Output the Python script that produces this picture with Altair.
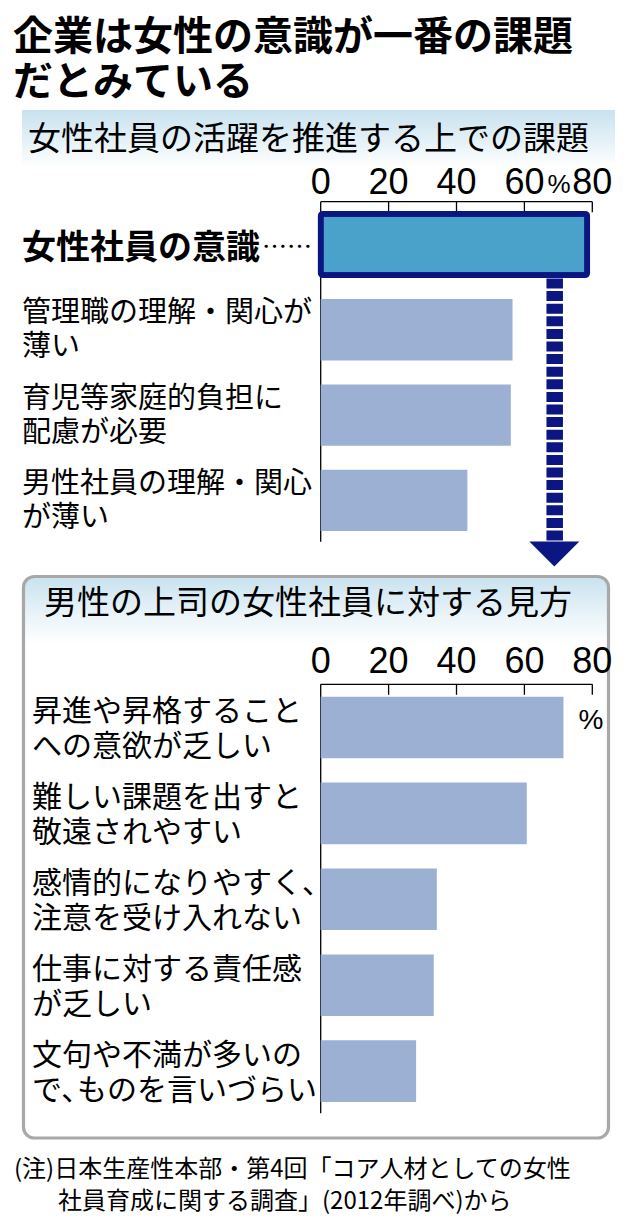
import altair as alt
import pandas as pd

# ---------------- data ----------------
title_lines = ["企業は女性の意識が一番の課題", "だとみている"]
top_title = "女性社員の活躍を推進する上での課題"
bottom_title = "男性の上司の女性社員に対する見方"
note_lines = ["(注)日本生産性本部・第4回「コア人材としての女性",
              "社員育成に関する調査」(2012年調べ)から"]

top_items = ["女性社員の意識",
             "管理職の理解・関心が\n薄い",
             "育児等家庭的負担に\n配慮が必要",
             "男性社員の理解・関心\nが薄い"]
top_values = [78.5, 56.5, 56.0, 43.2]
top_highlight = [True, False, False, False]

bottom_items = ["昇進や昇格すること\nへの意欲が乏しい",
                "難しい課題を出すと\n敬遠されやすい",
                "感情的になりやすく、\n注意を受け入れない",
                "仕事に対する責任感\nが乏しい",
                "文句や不満が多いの\nで､ものを言いづらい"]
bottom_values = [71.5, 60.7, 34.2, 33.3, 28.1]

tick_values = [0, 20, 40, 60, 80]
unit_label = "%"

# ---------------- styling ----------------
JP = "Noto Sans CJK JP"
NUM = "'Liberation Sans Narrow', 'Liberation Sans', sans-serif"
BAR = "#9bb0d3"
HL_FILL = "#4aa1c9"
NAVY = "#0b1683"
GRAY = "#a8a8a8"


def P(v):
    return v - 8


top_df = pd.DataFrame({"item": top_items, "value": top_values, "hl": top_highlight})
bot_df = pd.DataFrame({"item": bottom_items, "value": bottom_values})
tick_df = pd.DataFrame({"tick": tick_values})
axis_df = pd.DataFrame({"lo": [tick_values[0]], "hi": [tick_values[-1]]})
one = pd.DataFrame({"k": [0]})

xs = alt.Scale(domain=[0, 80], range=[P(320.7), P(592.3)], nice=False, zero=False)


def X(f):
    return alt.X(f, type="quantitative", scale=xs, axis=None)


top_ys = alt.Scale(domain=top_items, range=[P(201.85), P(543.05)],
                   paddingInner=0.28, paddingOuter=0.14)
bot_ys = alt.Scale(domain=bottom_items, range=[P(684.55), P(1114.05)],
                   paddingInner=0.283, paddingOuter=0.1415)


def txt(s, x, y, size, weight="normal", align="left", font=JP):
    return alt.Chart(pd.DataFrame({"t": [s]})).mark_text(
        font=font, fontSize=size, fontWeight=weight, align=align,
        baseline="middle", color="black"
    ).encode(x=alt.value(P(x)), y=alt.value(P(y) + 0.08 * size), text="t:N")


# decorations
banner = alt.Chart(one).mark_rect(
    fill=alt.LinearGradient(gradient="linear", x1=0, x2=0, y1=0, y2=1,
                            stops=[alt.GradientStop(color="#c8e2ef", offset=0),
                                   alt.GradientStop(color="#e4f1f7", offset=0.55),
                                   alt.GradientStop(color="#ffffff", offset=1)])
).encode(x=alt.value(P(22)), x2=alt.value(P(615)), y=alt.value(P(110)), y2=alt.value(P(166)))

box = alt.Chart(one).mark_rect(
    cornerRadius=11, stroke=GRAY, strokeWidth=3.2,
    fill=alt.LinearGradient(gradient="linear", x1=0, x2=0, y1=0, y2=1,
                            stops=[alt.GradientStop(color="#c8e2ef", offset=0),
                                   alt.GradientStop(color="#eaf4f9", offset=0.07),
                                   alt.GradientStop(color="#ffffff", offset=0.12),
                                   alt.GradientStop(color="#ffffff", offset=1)])
).encode(x=alt.value(P(23.5)), x2=alt.value(P(608.5)), y=alt.value(P(576.5)), y2=alt.value(P(1138)))

arrow_shaft = alt.Chart(one).mark_rule(
    color=NAVY, strokeWidth=16.5, strokeDash=[10, 2.6], strokeCap="butt"
).encode(x=alt.value(P(554.7)), y=alt.value(P(278.5)), y2=alt.value(P(542)))

arrow_head = alt.Chart(one).mark_point(
    shape="M -1 0 L 1 0 L 0 1 Z", size=2500, filled=True, color=NAVY, opacity=1, strokeWidth=0
).encode(x=alt.value(P(554.3)), y=alt.value(P(541.5)))


def axis_layers(y_line, y_bottom, y_labels):
    line = alt.Chart(axis_df).mark_rule(color="black", strokeWidth=1.3).encode(
        x=X("lo"), x2="hi", y=alt.value(P(y_line)))
    yline = alt.Chart(axis_df).mark_rule(color="black", strokeWidth=1.3).encode(
        x=X("lo"), y=alt.value(P(y_line)), y2=alt.value(P(y_bottom)))
    ticks = alt.Chart(tick_df).transform_filter("datum.tick > 0").mark_rule(
        color="black", strokeWidth=1.3).encode(
        x=X("tick"), y=alt.value(P(y_line)), y2=alt.value(P(y_line + 10.5)))
    labels = alt.Chart(tick_df).mark_text(
        font=NUM, fontSize=36, baseline="middle", align="center", color="black").encode(
        x=X("tick"), y=alt.value(P(y_labels) + 2), text=alt.Text("tick:Q", format="d"))
    return [line, yline, ticks, labels]


# top chart group
Yt = alt.Y("item:N", scale=top_ys, axis=None)
top_bars = alt.Chart(top_df).transform_filter("!datum.hl").mark_bar(color=BAR).encode(x=X("value"), y=Yt)
top_hl = alt.Chart(top_df).transform_filter("datum.hl").mark_bar(
    fill=HL_FILL, stroke=NAVY, strokeWidth=5.7, cornerRadius=2, strokeJoin="round").encode(x=X("value"), y=Yt)
top_lab = alt.Chart(top_df).transform_filter("!datum.hl").mark_text(
    font=JP, fontSize=29, lineHeight=34, lineBreak="\n", align="left", baseline="middle",
    color="black", dy=-16.5).encode(x=alt.value(P(22)), y=Yt, text="item:N")
top_lab_b = alt.Chart(top_df).transform_filter("datum.hl").mark_text(
    font=JP, fontSize=34, fontWeight="bold", align="left", baseline="middle",
    color="black", dy=4).encode(x=alt.value(P(22)), y=Yt, text="item:N")
top_leader = alt.Chart(top_df).transform_filter("datum.hl").transform_calculate(
    dots="'……'").mark_text(
    font=JP, fontSize=25, align="left", baseline="middle", color="black", dy=3).encode(
    x=alt.value(P(262)), y=Yt, text="dots:N")
top_group = alt.layer(top_bars, top_hl, top_lab, top_lab_b, top_leader)

# bottom chart group
Yb = alt.Y("item:N", scale=bot_ys, axis=None)
bot_bars = alt.Chart(bot_df).mark_bar(color=BAR).encode(x=X("value"), y=Yb)
bot_lab = alt.Chart(bot_df).mark_text(
    font=JP, fontSize=30, lineHeight=35, lineBreak="\n", align="left", baseline="middle",
    color="black", dy=-15.5).encode(x=alt.value(P(32)), y=Yb, text="item:N")
bot_group = alt.layer(bot_bars, bot_lab)

layers = [banner, box, arrow_shaft, arrow_head]
layers += axis_layers(201.7, 541.7, 181)
layers += axis_layers(684.3, 1113.3, 660)
layers += [
    txt(title_lines[0], 13, 35, 40, "bold"),
    txt(title_lines[1], 13, 80, 40, "bold"),
    txt(top_title, 28, 137, 33),
    txt(bottom_title, 44, 601, 33),
    txt(unit_label, 559, 183, 26, align="center", font=NUM),
    txt(unit_label, 591, 719, 28, align="center", font=NUM),
    txt(note_lines[0], 14, 1168, 24),
    txt(note_lines[1], 58, 1200, 24),
]

chart = alt.layer(*layers, top_group, bot_group).resolve_scale(
    y="independent"
).properties(
    width=614, height=1211, autosize="none", padding=0, background="white"
).configure_view(stroke=None)

chart.save("out.html", embed_options={"renderer": "svg", "actions": False})
